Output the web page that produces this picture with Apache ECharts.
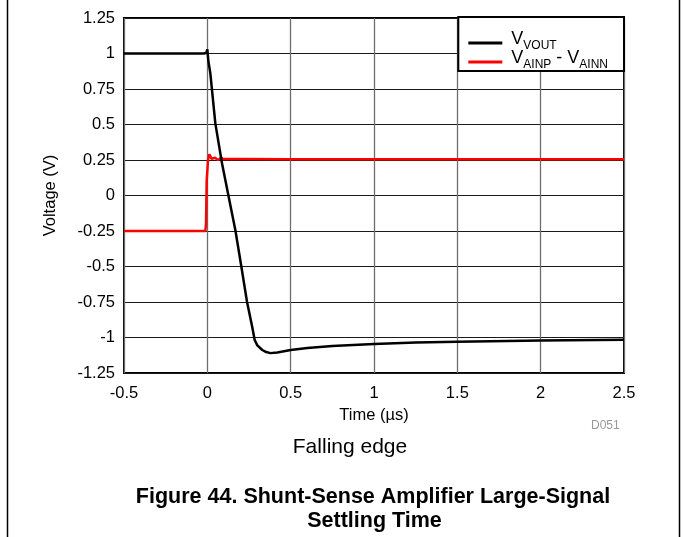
<!DOCTYPE html>
<html>
<head>
<meta charset="utf-8">
<script src="https://cdn.jsdelivr.net/npm/echarts@6/dist/echarts.min.js"></script>
<style>
html,body{margin:0;padding:0;background:#fff;}
#chart{width:683px;height:537px;}
</style>
</head>
<body>
<div id="chart"></div>
<script>
// ---- data ----
var voutTime = [-0.5, -0.3, -0.1, -0.02, -0.006, 0.0, 0.006, 0.018, 0.03, 0.048, 0.088, 0.128, 0.168, 0.204, 0.238, 0.27, 0.284, 0.3, 0.33, 0.348, 0.378, 0.42, 0.5, 0.6, 0.75, 1.0, 1.25, 1.5, 2.0, 2.5];
var voutVolt = [1.0, 1.0, 1.0, 1.0, 1.005, 1.03, 0.95, 0.86, 0.72, 0.508, 0.227, -0.008, -0.243, -0.5, -0.748, -0.93, -1.018, -1.055, -1.088, -1.1, -1.11, -1.105, -1.088, -1.074, -1.06, -1.045, -1.036, -1.03, -1.022, -1.016];
var diffTime = [-0.5, -0.2, -0.012, -0.008, -0.004, 0.004, 0.012, 0.018, 0.026, 0.036, 0.046, 0.054, 0.064, 0.072, 0.082, 0.095, 0.2, 0.5, 1.0, 1.5, 2.0, 2.5];
var diffVolt = [-0.25, -0.25, -0.25, -0.2, 0.1, 0.25, 0.29, 0.288, 0.258, 0.246, 0.266, 0.276, 0.249, 0.247, 0.267, 0.257, 0.257, 0.256, 0.256, 0.255, 0.255, 0.255];
var seriesNames = ['VOUT', 'AINP - AINN'];
var xTicks = {min: -0.5, max: 2.5, interval: 0.5};
var yTicks = {min: -1.25, max: 1.25, interval: 0.25};

function pairs(t, v) { return t.map(function (x, i) { return [x, v[i]]; }); }

var chart = echarts.init(document.getElementById('chart'), null, {renderer: 'canvas'});
var font = 'Arial, "Liberation Sans", Helvetica, sans-serif';

var option = {
  backgroundColor: '#fff',
  animation: false,
  textStyle: {fontFamily: font},
  grid: {left: 124, right: 59, top: 18, bottom: 164, show: true, borderColor: '#000', borderWidth: 2, backgroundColor: 'transparent'},
  xAxis: {
    type: 'value', min: xTicks.min, max: xTicks.max, interval: xTicks.interval,
    name: 'Time (\u00b5s)', nameLocation: 'middle', nameGap: 28,
    nameTextStyle: {fontSize: 16.5, color: '#000', fontFamily: font},
    axisLine: {show: false}, axisTick: {show: false},
    axisLabel: {fontSize: 16.5, color: '#000', margin: 12, fontFamily: font},
    splitLine: {show: true, lineStyle: {color: '#6e6e6e', width: 1.3}}
  },
  yAxis: {
    type: 'value', min: yTicks.min, max: yTicks.max, interval: yTicks.interval,
    name: 'Voltage (V)', nameLocation: 'middle', nameGap: 65, nameRotate: 90,
    nameTextStyle: {fontSize: 16.5, color: '#000', fontFamily: font},
    axisLine: {show: false}, axisTick: {show: false},
    axisLabel: {fontSize: 16.5, color: '#000', margin: 9, fontFamily: font},
    splitLine: {show: true, lineStyle: {color: '#1a1a1a', width: 1}}
  },
  legend: {
    orient: 'vertical', right: 59, top: 17,
    backgroundColor: '#fff', borderColor: '#000', borderWidth: 2,
    padding: [13, 16, 0, 10], itemGap: -3,
    itemWidth: 34, itemHeight: 3,
    icon: 'rect',
    data: seriesNames,
    formatter: function (name) {
      var parts = name.split(' - ');
      if (parts.length === 1) return '{g|}{v|V}{s|' + name + '}';
      return '{g|}{v|V}{s|' + parts[0] + '}{v| - V}{s|' + parts[1] + '}';
    },
    textStyle: {
      fontFamily: font, color: '#000',
      rich: {
        g: {width: 4, lineHeight: 18},
        v: {fontSize: 18, fontFamily: font, color: '#000', lineHeight: 14, padding: [0, 0, 4, 0], verticalAlign: 'bottom'},
        s: {fontSize: 12, fontFamily: font, color: '#000', lineHeight: 16, verticalAlign: 'bottom'}
      }
    }
  },
  graphic: [
    {type: 'line', shape: {x1: 7.5, y1: 0, x2: 7.5, y2: 537}, style: {stroke: '#000', lineWidth: 1.5}},
    {type: 'line', shape: {x1: 679.5, y1: 0, x2: 679.5, y2: 537}, style: {stroke: '#000', lineWidth: 1.5}},
    {type: 'text', left: 591, top: 420, style: {text: 'D051', fontSize: 12, fill: '#999', fontFamily: font}},
    {type: 'text', x: 350, y: 447, style: {text: 'Falling edge', fontSize: 21, fill: '#000', fontFamily: font, textAlign: 'center', textVerticalAlign: 'middle'}},
    {type: 'text', x: 373, y: 497, style: {text: 'Figure 44. Shunt-Sense Amplifier Large-Signal', fontSize: 21.5, fontWeight: 'bold', fill: '#000', fontFamily: font, textAlign: 'center', textVerticalAlign: 'middle'}},
    {type: 'text', x: 374.5, y: 521, style: {text: 'Settling Time', fontSize: 21.5, fontWeight: 'bold', fill: '#000', fontFamily: font, textAlign: 'center', textVerticalAlign: 'middle'}}
  ],
  series: [
    {name: seriesNames[0], type: 'line', data: pairs(voutTime, voutVolt), showSymbol: false, symbol: 'none',
     lineStyle: {color: '#000', width: 2.5}, itemStyle: {color: '#000'}, z: 3},
    {name: seriesNames[1], type: 'line', data: pairs(diffTime, diffVolt), showSymbol: false, symbol: 'none',
     lineStyle: {color: '#ff0000', width: 2.5}, itemStyle: {color: '#ff0000'}, z: 2}
  ]
};
chart.setOption(option);
</script>
</body>
</html>
